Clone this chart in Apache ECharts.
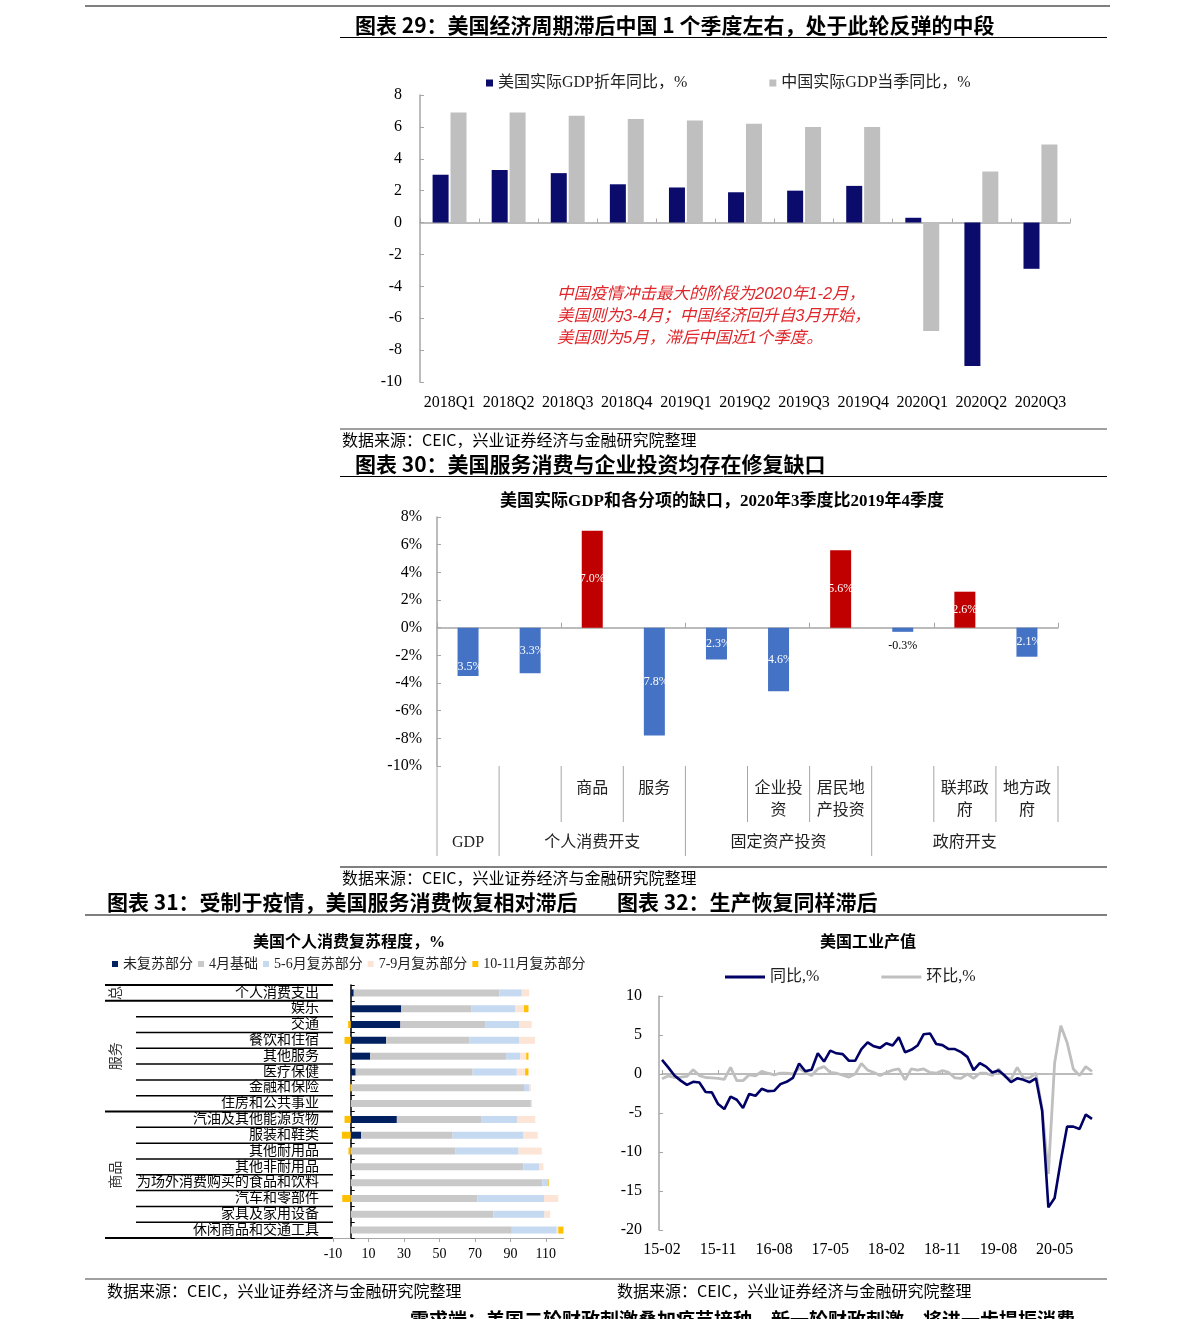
<!DOCTYPE html>
<html><head><meta charset="utf-8">
<script src="https://cdn.jsdelivr.net/npm/echarts@6/dist/echarts.min.js"></script>
<style>html,body{margin:0;padding:0;background:#fff;}#c{width:1191px;height:1319px;}</style>
</head><body><div id="c"></div>
<script>
// ---------- Chart 29 data ----------
const c29Cats = ['2018Q1','2018Q2','2018Q3','2018Q4','2019Q1','2019Q2','2019Q3','2019Q4','2020Q1','2020Q2','2020Q3'];
const c29US = [3.0, 3.3, 3.1, 2.4, 2.2, 1.9, 2.0, 2.3, 0.3, -9.0, -2.9];
const c29CN = [6.9, 6.9, 6.7, 6.5, 6.4, 6.2, 6.0, 6.0, -6.8, 3.2, 4.9];
const c29Names = ['美国实际GDP折年同比，%', '中国实际GDP当季同比，%'];
const c29Note = ['中国疫情冲击最大的阶段为2020年1-2月，', '美国则为3-4月；中国经济回升自3月开始，', '美国则为5月，滞后中国近1个季度。'];

// ---------- Chart 30 data ----------
const c30Cats = ['GDP','个人消费开支','商品','服务','固定资产投资','企业投资','居民地产投资','政府开支','联邦政府','地方政府'];
const c30Vals = [-3.5, -3.3, 7.0, -7.8, -2.3, -4.6, 5.6, -0.3, 2.6, -2.1];
const c30TopLabels = ['', '', '商品', '服务', '', '企业投\n资', '居民地\n产投资', '', '联邦政\n府', '地方政\n府'];
const c30Groups = [['GDP', 0, 0], ['个人消费开支', 1, 3], ['固定资产投资', 4, 6], ['政府开支', 7, 9]];

// ---------- Chart 31 data ----------
const c31Cats = ['个人消费支出','娱乐','交通','餐饮和住宿','其他服务','医疗保健','金融和保险','住房和公共事业','汽油及其他能源货物','服装和鞋类','其他耐用品','其他非耐用品','为场外消费购买的食品和饮料','汽车和零部件','家具及家用设备','休闲商品和交通工具'];
const c31Groups = [['总', 0, 0], ['服务', 1, 7], ['商品', 8, 15]];
const c31Names = ['未复苏部分', '4月基础', '5-6月复苏部分', '7-9月复苏部分', '10-11月复苏部分'];
const c31Unrec  = [1.7, 28.5, 28.0, 19.9, 11.0, 2.8, 0, 0, 26.0, 5.8, 0, 0, 0, 0, 0, 0];
const c31Apr    = [82.0, 39.4, 47.8, 47.1, 76.6, 65.9, 97.7, 101.5, 47.5, 51.6, 58.9, 97.4, 108.0, 71.4, 80.5, 90.8];
const c31MayJun = [12.7, 24.8, 19.1, 27.9, 7.9, 24.9, 2.8, 0.5, 20.5, 40.0, 35.7, 9.0, 3.4, 37.6, 28.7, 25.3];
const c31JulSep = [4.2, 5.0, 7.1, 9.0, 3.4, 4.7, 1.2, 0, 10.0, 8.0, 13.1, 2.2, 0, 8.0, 3.2, 0.9];
const c31OctNov = [0, 2.5, -1.5, -3.5, 1.3, 1.9, -0.5, 0, -3.5, -5.0, -1.3, 0, 0.4, -4.8, 0, 2.9];

// ---------- Chart 32 data ----------
const c32Cats = ['15-02','15-03','15-04','15-05','15-06','15-07','15-08','15-09','15-10','15-11','15-12',
 '16-01','16-02','16-03','16-04','16-05','16-06','16-07','16-08','16-09','16-10','16-11','16-12',
 '17-01','17-02','17-03','17-04','17-05','17-06','17-07','17-08','17-09','17-10','17-11','17-12',
 '18-01','18-02','18-03','18-04','18-05','18-06','18-07','18-08','18-09','18-10','18-11','18-12',
 '19-01','19-02','19-03','19-04','19-05','19-06','19-07','19-08','19-09','19-10','19-11','19-12',
 '20-01','20-02','20-03','20-04','20-05','20-06','20-07','20-08','20-09','20-10','20-11'];
const c32YoY = [1.8, 0.85, -0.2, -0.85, -1.4, -1.0, -1.1, -2.3, -2.35, -3.85, -4.5, -2.9, -3.3, -4.35, -2.55, -2.8, -1.9, -2.2, -2.15, -1.3,
 -1.0, -0.5, 1.35, 0.35, 0.55, 2.65, 1.6, 3.0, 2.65, 2.55, 1.7, 1.7, 3.2, 4.05, 3.55, 3.35, 3.95, 3.65, 4.7, 2.8,
 3.1, 3.65, 5.1, 5.2, 3.85, 3.7, 3.2, 3.2, 2.8, 2.2, 0.5, 1.4, 0.95, 0.2, 0.45, -0.2, -1.05, -0.55, -0.75, -1.05,
 -0.55, -4.7, -17.1, -15.9, -11.1, -6.75, -6.75, -7.05, -5.2, -5.75];
const c32MoM = [-0.6, -0.25, -0.45, -0.4, -0.3, 0.55, -0.2, -0.45, -0.5, -0.55, -0.7, 0.85, -0.85, -0.85, -0.1, -0.25, 0.35, 0.1, -0.1, 0.1,
 0.1, 0.0, 0.75, 0.2, -0.2, 0.65, 0.95, 0.2, 0.1, -0.15, -0.4, 0.0, 1.35, 0.5, 0.2, -0.2, 0.2, 0.5, 0.65, -0.75,
 0.65, 0.5, 0.65, 0.2, 0.1, 0.45, 0.2, -0.5, -0.55, 0.0, -0.55, 0.1, 0.1, -0.2, 0.65, -0.35, -0.65, 0.85, -0.5, -0.5,
 0.1, -4.5, -12.8, 1.4, 6.2, 4.05, 0.65, -0.2, 0.95, 0.35];
const c32Names = ['同比,%', '环比,%'];

// ---------- page texts ----------
const SRC = '数据来源：CEIC，兴业证券经济与金融研究院整理';
const T29 = '图表 29：美国经济周期滞后中国 1 个季度左右，处于此轮反弹的中段';
const T30 = '图表 30：美国服务消费与企业投资均存在修复缺口';
const T31 = '图表 31：受制于疫情，美国服务消费恢复相对滞后';
const T32 = '图表 32：生产恢复同样滞后';
const ST30 = '美国实际GDP和各分项的缺口，2020年3季度比2019年4季度';
const ST31 = '美国个人消费复苏程度，%';
const ST32 = '美国工业产值';
const BOTTOM = '需求端：美国二轮财政刺激叠加疫苗接种，新一轮财政刺激，将进一步提振消费';

const SERIF = "'Liberation Serif','Times New Roman','Noto Sans CJK SC',serif";
const SANS = "'Noto Sans CJK SC',sans-serif";
const AX = '#a6a6a6';

const chart = echarts.init(document.getElementById('c'));

const c30LabelAdj = {0: {offset: [0, 15]}, 7: {offset: [0, 16], color: '#000'}};

const option = {
  animation: false,
  grid: [
    {left: 420, top: 95, width: 650, height: 287},
    {left: 437, top: 517, width: 621, height: 249},
    {left: 333, top: 985, width: 230.6, height: 253},
    {left: 662, top: 996, width: 430, height: 234}
  ],
  legend: [
    {left: 486, top: 75, padding: 0, icon: 'rect', itemWidth: 7, itemHeight: 7, itemGap: 82,
     textStyle: {fontSize: 16, fontFamily: SERIF, color: '#222'}, data: c29Names},
    {left: 112, top: 957, padding: 0, icon: 'rect', itemWidth: 6, itemHeight: 6, itemGap: 5,
     textStyle: {fontSize: 14, fontFamily: SERIF, color: '#222'}, data: c31Names},
    {left: 725, top: 969, padding: 0, icon: 'rect', itemWidth: 40, itemHeight: 3, itemGap: 62,
     textStyle: {fontSize: 16, fontFamily: SERIF, color: '#222'}, data: c32Names}
  ],
  xAxis: [
    {gridIndex: 0, type: 'category', data: c29Cats, position: 'bottom',
     axisLine: {show: false, onZero: false}, axisTick: {show: false},
     axisLabel: {interval: 0, fontSize: 16, fontFamily: SERIF, color: '#000', margin: 13}},
    {gridIndex: 0, type: 'category', data: c29Cats, position: 'top',
     axisLine: {show: true, onZero: true, lineStyle: {color: AX, width: 1.5}},
     axisTick: {show: true, length: 4, lineStyle: {color: AX}}, axisLabel: {show: false}},
    {gridIndex: 1, type: 'category', data: c30Cats, position: 'top',
     axisLine: {show: true, onZero: true, lineStyle: {color: AX, width: 1.5}},
     axisTick: {show: true, length: 5, lineStyle: {color: AX}}, axisLabel: {show: false}},
    {gridIndex: 2, type: 'value', min: -10, max: 120, interval: 20, position: 'bottom',
     axisLine: {show: true, onZero: false, lineStyle: {color: AX}},
     axisTick: {show: true, length: 4, lineStyle: {color: AX}}, splitLine: {show: false},
     axisLabel: {fontSize: 14, fontFamily: SERIF, color: '#000', margin: 9, showMaxLabel: false}},
    {gridIndex: 3, type: 'category', data: c32Cats, boundaryGap: false, position: 'bottom',
     axisLine: {show: false, onZero: false}, axisTick: {show: false},
     axisLabel: {interval: 8, fontSize: 16, fontFamily: SERIF, color: '#000', margin: 12}},
    {gridIndex: 3, type: 'category', data: c32Cats, boundaryGap: false, position: 'top',
     axisLine: {show: true, onZero: true, lineStyle: {color: AX, width: 1.5}},
     axisTick: {show: true, interval: 8, length: 4, lineStyle: {color: AX}}, axisLabel: {show: false}}
  ],
  yAxis: [
    {gridIndex: 0, type: 'value', min: -10, max: 8, interval: 2,
     axisLine: {show: true, lineStyle: {color: AX, width: 1.5}},
     axisTick: {show: true, inside: true, length: 4, lineStyle: {color: AX}}, splitLine: {show: false},
     axisLabel: {fontSize: 16, fontFamily: SERIF, color: '#000', margin: 18}},
    {gridIndex: 1, type: 'value', min: -10, max: 8, interval: 2,
     axisLine: {show: true, lineStyle: {color: AX, width: 1.5}},
     axisTick: {show: true, inside: true, length: 4, lineStyle: {color: AX}}, splitLine: {show: false},
     axisLabel: {fontSize: 16, fontFamily: SERIF, color: '#000', margin: 15, formatter: v => v + '%'}},
    {gridIndex: 2, type: 'category', data: c31Cats, inverse: true,
     axisLine: {show: true, onZero: true, lineStyle: {color: '#000', width: 1.5}},
     axisTick: {show: true, inside: true, length: 4, lineStyle: {color: '#000'}},
     axisLabel: {interval: 0, fontSize: 14, fontFamily: SERIF, color: '#000', margin: 14}},
    {gridIndex: 3, type: 'value', min: -20, max: 10, interval: 5, offset: 3,
     axisLine: {show: true, lineStyle: {color: AX, width: 1.5}},
     axisTick: {show: true, inside: true, length: 4, lineStyle: {color: AX}}, splitLine: {show: false},
     axisLabel: {fontSize: 16, fontFamily: SERIF, color: '#000', margin: 17}}
  ],
  series: [
    {type: 'bar', name: c29Names[0], xAxisIndex: 0, yAxisIndex: 0, data: c29US, barWidth: 16, barGap: '12%',
     itemStyle: {color: '#0b0b6b'}},
    {type: 'bar', name: c29Names[1], xAxisIndex: 0, yAxisIndex: 0, data: c29CN, barWidth: 16,
     itemStyle: {color: '#bfbfbf'}},
    {type: 'bar', name: 'c30', xAxisIndex: 2, yAxisIndex: 1, barWidth: 21,
     data: c30Vals.map((v, i) => ({value: v, itemStyle: {color: v >= 0 ? '#c00000' : '#4472c4'},
       label: c30LabelAdj[i] || {}})),
     label: {show: true, position: 'inside', color: '#fff', fontSize: 12, fontFamily: SERIF,
       formatter: p => p.value.toFixed(1) + '%'}},
    {type: 'bar', name: c31Names[0], stack: 'c31', xAxisIndex: 3, yAxisIndex: 2, data: c31Unrec, barWidth: 7, itemStyle: {color: '#002060'}},
    {type: 'bar', name: c31Names[1], stack: 'c31', xAxisIndex: 3, yAxisIndex: 2, data: c31Apr, barWidth: 7, itemStyle: {color: '#c9c9c9'}},
    {type: 'bar', name: c31Names[2], stack: 'c31', xAxisIndex: 3, yAxisIndex: 2, data: c31MayJun, barWidth: 7, itemStyle: {color: '#c5d9f1'}},
    {type: 'bar', name: c31Names[3], stack: 'c31', xAxisIndex: 3, yAxisIndex: 2, data: c31JulSep, barWidth: 7, itemStyle: {color: '#fce4d6'}},
    {type: 'bar', name: c31Names[4], stack: 'c31', xAxisIndex: 3, yAxisIndex: 2, data: c31OctNov, barWidth: 7, itemStyle: {color: '#ffc000'}},
    {type: 'line', name: c32Names[1], xAxisIndex: 4, yAxisIndex: 3, data: c32MoM, symbol: 'none',
     lineStyle: {color: '#bfbfbf', width: 2.8}, itemStyle: {color: '#bfbfbf'}},
    {type: 'line', name: c32Names[0], xAxisIndex: 4, yAxisIndex: 3, data: c32YoY, symbol: 'none',
     lineStyle: {color: '#000066', width: 2.6}, itemStyle: {color: '#000066'}}
  ]
};
chart.setOption(option);

// ---------- decorations ----------
function hl(x1, x2, y, color, w) {
  return {type: 'line', silent: true, shape: {x1: x1, y1: y, x2: x2, y2: y}, style: {stroke: color, lineWidth: w}};
}
function vl(x, y1, y2, color, w) {
  return {type: 'line', silent: true, shape: {x1: x, y1: y1, x2: x, y2: y2}, style: {stroke: color, lineWidth: w}};
}
function tx(x, y, s, size, opt) {
  opt = opt || {};
  return {type: 'text', silent: true, x: x, y: y, rotation: opt.rot || 0,
    style: {text: s, fontSize: size, fontFamily: opt.family || SERIF, fontWeight: opt.weight || 'normal',
      fontStyle: opt.style || 'normal', fill: opt.color || '#000',
      align: opt.align || 'left', textAlign: opt.align || 'left',
      verticalAlign: opt.va || 'middle', textVerticalAlign: opt.va || 'middle',
      lineHeight: opt.lh || undefined}};
}
const g = [];
// page rules
g.push(hl(85, 1110, 6, '#808080', 2));
g.push(hl(340, 1107, 37.5, '#000', 1));
g.push(hl(340, 1107, 429, '#808080', 1.5));
g.push(hl(340, 1107, 476.5, '#000', 1));
g.push(hl(340, 1107, 867, '#808080', 2));
g.push(hl(85, 1107, 915, '#555', 1.5));
g.push(hl(85, 1107, 1279, '#808080', 1.5));
// titles
const TB = {family: SANS, weight: 'bold'};
g.push(tx(355, 25, T29, 21, TB));
g.push(tx(355, 464, T30, 21, TB));
g.push(tx(107, 902, T31, 21, TB));
g.push(tx(617, 902, T32, 21, TB));
g.push(tx(342, 440, SRC, 16, {family: SANS}));
g.push(tx(342, 878, SRC, 16, {family: SANS}));
g.push(tx(107, 1291, SRC, 16, {family: SANS}));
g.push(tx(617, 1291, SRC, 16, {family: SANS}));
g.push(tx(722, 502, ST30, 17, {weight: 'bold', align: 'center'}));
g.push(tx(349, 943, ST31, 16, {weight: 'bold', align: 'center'}));
g.push(tx(868, 943, ST32, 16, {weight: 'bold', align: 'center'}));
g.push(tx(410, 1320, BOTTOM, 19, TB));
// chart 29 annotation
c29Note.forEach((s, i) => g.push(tx(557, 294 + 22 * i, s, 16.5,
  {family: "'Liberation Sans','Noto Sans CJK SC',sans-serif", style: 'italic', color: '#e0262a'})));

// chart 30 category table
const cx30 = c30Cats.map((_, i) => chart.convertToPixel({xAxisIndex: 2}, i));
const w30 = cx30[1] - cx30[0];
const b30 = k => cx30[0] - w30 / 2 + k * w30;
const yb30 = chart.convertToPixel({yAxisIndex: 1}, -10);
const fullK = new Set([0]);
c30Groups.forEach(gr => { fullK.add(gr[1]); });
for (let k = 0; k <= c30Cats.length; k++) {
  g.push(vl(b30(k), yb30, yb30 + (fullK.has(k) ? 90 : 56), AX, 1));
}
c30TopLabels.forEach((s, i) => { if (s) g.push(tx(cx30[i], yb30 + 12, s, 16, {align: 'center', va: 'top', lh: 22, color: '#222'})); });
c30Groups.forEach(gr => {
  g.push(tx((cx30[gr[1]] + cx30[gr[2]]) / 2, yb30 + 77, gr[0], 16, {align: 'center', color: '#222'}));
});

// chart 31 table lines
const ry = c31Cats.map((_, i) => chart.convertToPixel({yAxisIndex: 2}, i));
const rh = ry[1] - ry[0];
const left31 = chart.convertToPixel({xAxisIndex: 3}, -10);
const groupEnds = new Set(c31Groups.map(gr => gr[2]));
g.push(hl(105, left31, ry[0] - rh / 2, '#000', 2));
c31Cats.forEach((_, i) => {
  const y = ry[i] + rh / 2;
  if (groupEnds.has(i)) g.push(hl(105, left31, y, '#000', 2));
  else g.push(hl(136, left31, y, '#000', 1.5));
});
c31Groups.forEach(gr => {
  const yc = (ry[gr[1]] + ry[gr[2]]) / 2;
  g.push(tx(116, yc, gr[0], 14, {align: 'center', rot: Math.PI / 2, color: '#333'}));
});

chart.setOption({graphic: g});
</script></body></html>
